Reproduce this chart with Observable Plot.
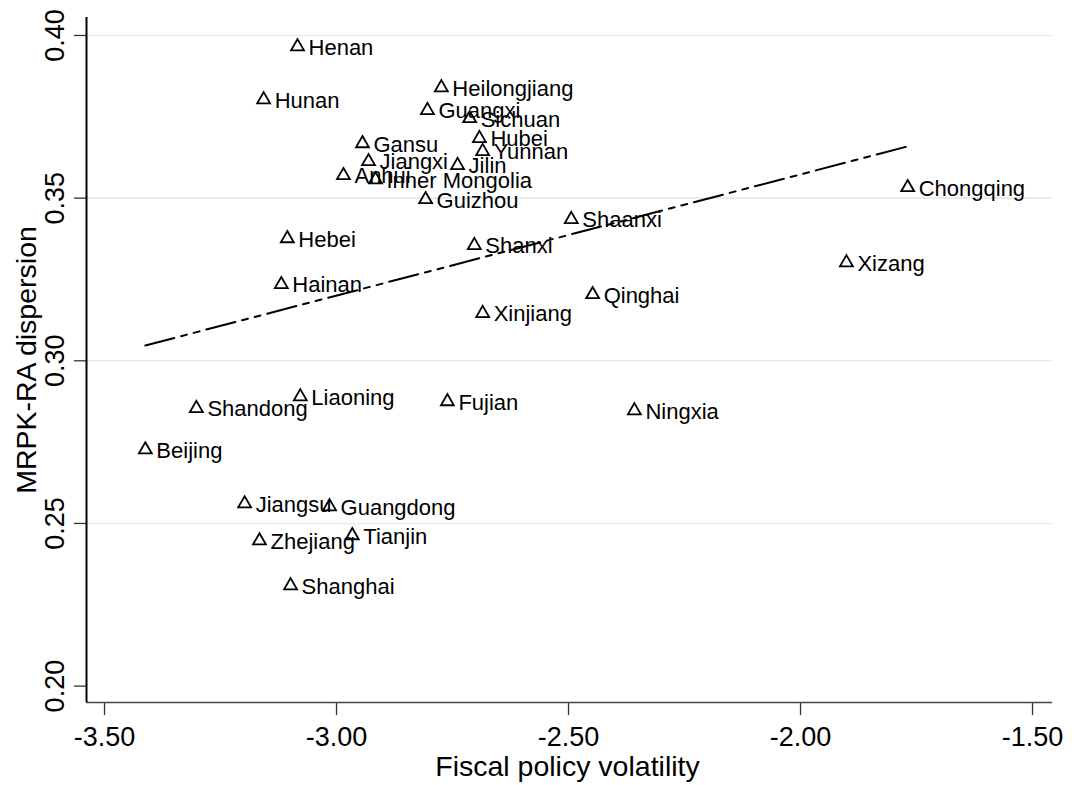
<!DOCTYPE html>
<html>
<head>
<meta charset="utf-8">
<script src="https://cdn.jsdelivr.net/npm/d3@7"></script>
<script src="https://cdn.jsdelivr.net/npm/@observablehq/plot@0.6"></script>
<style>
  body { margin: 0; background: #fff; }
  #chart svg { display: block; }
</style>
</head>
<body>
<div id="chart"></div>
<script>
const provinces = ["Henan","Hunan","Heilongjiang","Guangxi","Sichuan","Gansu","Hubei","Yunnan","Jiangxi","Jilin","Anhui","Inner Mongolia","Guizhou","Shaanxi","Chongqing","Hebei","Shanxi","Hainan","Xizang","Qinghai","Xinjiang","Liaoning","Shandong","Fujian","Ningxia","Beijing","Jiangsu","Guangdong","Zhejiang","Tianjin","Shanghai"];
const volatility = [-3.084,-3.157,-2.774,-2.804,-2.713,-2.944,-2.692,-2.685,-2.931,-2.739,-2.985,-2.916,-2.808,-2.494,-1.769,-3.106,-2.703,-3.119,-1.901,-2.448,-2.685,-3.078,-3.302,-2.761,-2.358,-3.412,-3.198,-3.015,-3.166,-2.966,-3.099];
const dispersion = [0.3972,0.3809,0.3846,0.3776,0.3751,0.3674,0.3690,0.3650,0.3619,0.3607,0.3576,0.3563,0.3502,0.3441,0.3539,0.3382,0.3361,0.3241,0.3308,0.3210,0.3152,0.2896,0.2860,0.2881,0.2853,0.2733,0.2567,0.2558,0.2453,0.2469,0.2315];

// fitted line endpoints
const fitX = [-3.412, -1.769];
const fitY = [0.3047, 0.3659];

const xTicks = [-3.5, -3.0, -2.5, -2.0, -1.5];
const xTickLabels = ["-3.50", "-3.00", "-2.50", "-2.00", "-1.50"];
const yTicks = [0.20, 0.25, 0.30, 0.35, 0.40];
const yTickLabels = ["0.20", "0.25", "0.30", "0.35", "0.40"];
const yGrid = [0.25, 0.30, 0.35, 0.40];
const xTitle = "Fiscal policy volatility";
const yTitle = "MRPK-RA dispersion";
const xDomain = [-3.5388, -1.4569];
const yDomain = [0.19496, 0.40553];

const points = provinces.map((name, i) => ({name, x: volatility[i], y: dispersion[i]}));
const fit = fitX.map((x, i) => ({x, y: fitY[i]}));
const font = "'Liberation Sans', Arial, Helvetica, sans-serif";

const chart = Plot.plot({
  width: 1075,
  height: 785,
  marginLeft: 86,
  marginRight: 23,
  marginTop: 17,
  marginBottom: 83,
  style: {fontFamily: font, background: "#fff", color: "#000", overflow: "visible"},
  x: {domain: xDomain},
  y: {domain: yDomain},
  marks: [
    Plot.ruleY(yGrid, {stroke: "#e3ebee", strokeWidth: 1.6}),
    Plot.axisX({
      ticks: xTicks,
      tickFormat: d => xTickLabels[xTicks.findIndex(t => Math.abs(t - d) < 1e-9)],
      tickSize: 13, tickPadding: 11, fontSize: 27,
      stroke: "#333", strokeWidth: 1.3, fill: "#000", label: null
    }),
    Plot.axisY({
      ticks: yTicks,
      tickFormat: d => yTickLabels[yTicks.findIndex(t => Math.abs(t - d) < 1e-9)],
      tickSize: 12, tickPadding: 11, tickRotate: -90, fontSize: 27,
      stroke: "#333", strokeWidth: 1.3, fill: "#000", label: null
    }),
    Plot.ruleY([yDomain[0]], {stroke: "#444", strokeWidth: 1.5}),
    Plot.ruleX([xDomain[0]], {stroke: "#000", strokeWidth: 2}),
    Plot.line(fit, {x: "x", y: "y", stroke: "#000", strokeWidth: 2, strokeDasharray: "30,7,6,7,6,7"}),
    Plot.dot(points, {x: "x", y: "y", symbol: "triangle", r: 4.8, stroke: "#000", strokeWidth: 1.8, fill: "none", dy: 2}),
    Plot.text(points, {x: "x", y: "y", text: "name", textAnchor: "start", dx: 11, dy: 3, fontSize: 22, fill: "#000"}),
    Plot.text([xTitle], {frameAnchor: "bottom", lineAnchor: "bottom", dy: 73, dx: -2, fontSize: 28.5, fill: "#000"}),
    Plot.text([yTitle], {frameAnchor: "left", rotate: -90, lineAnchor: "bottom", textAnchor: "middle", dx: -51, fontSize: 28.5, fill: "#000"})
  ]
});

document.getElementById("chart").appendChild(chart);
</script>
</body>
</html>
